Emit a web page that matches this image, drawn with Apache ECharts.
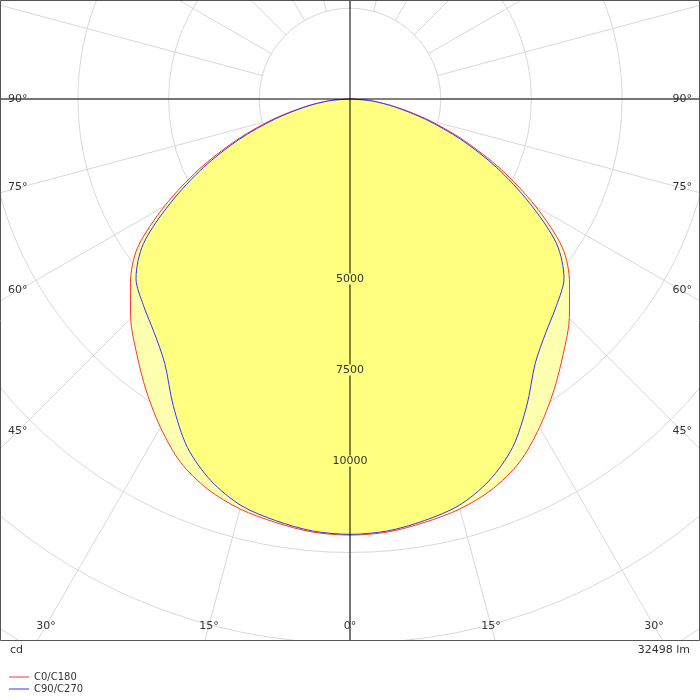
<!DOCTYPE html>
<html><head><meta charset="utf-8">
<script src="https://cdn.jsdelivr.net/npm/echarts@6/dist/echarts.min.js"></script>
<style>html,body{margin:0;padding:0;background:#fff}#ct{width:700px;height:700px}</style>
</head><body><div id="ct"></div>
<script>
// angles measured from nadir (0°) to horizontal (90°)
var gammaAngles = [0, 5, 10, 15, 20, 25, 30, 35, 40, 45, 50, 55, 60, 65, 70, 75, 80, 85, 90];
var c0c180 = [12020, 11980, 11850, 11700, 11450, 11050, 10450, 9800, 9150, 8550, 7900, 7150, 5900, 4600, 3350, 2250, 1300, 600, 0];
var c90c270 = [12000, 11950, 11800, 11600, 11200, 10600, 9750, 8900, 8400, 8050, 7700, 6950, 5700, 4450, 3250, 2150, 1250, 580, 0];
var radiusLabels = ['5000', '7500', '10000'];
var sideLabels = ['90°', '75°', '60°', '45°'];
var bottomLabels = ['30°', '15°', '0°', '15°', '30°'];
var fluxText = '32498 lm';

function polarData(vals) {
    var d = [];
    for (var i = gammaAngles.length - 1; i >= 0; i--) d.push([vals[i], gammaAngles[i]]);
    for (var j = 0; j < gammaAngles.length; j++) d.push([vals[j], 360 - gammaAngles[j]]);
    return d;
}

var txt = {fontSize: 11, fontFamily: 'DejaVu Sans', fill: '#333'};
function label(x, y, s, align) {
    return {type: 'text', x: x, y: y, z: 60, style: Object.assign({text: s, align: align || 'center', verticalAlign: 'middle'}, txt)};
}

var graphics = [
    {type: 'circle', shape: {cx: 350, cy: 99, r: 90.7}, z: 1, style: {fill: '#fff', stroke: '#dcdcdc'}},
    {type: 'line', shape: {x1: 350, y1: 0, x2: 350, y2: 640}, z: 40, style: {stroke: '#000'}},
    {type: 'line', shape: {x1: 0, y1: 99, x2: 700, y2: 99}, z: 40, style: {stroke: '#000'}},
    {type: 'rect', shape: {x: 0, y: 640.5, width: 700, height: 60}, z: 50, style: {fill: '#fff'}},
    {type: 'rect', shape: {x: 0.5, y: 0.5, width: 699, height: 640}, z: 55, style: {fill: 'none', stroke: '#555'}},
    label(10, 650, 'cd', 'left'),
    label(690, 650, fluxText, 'right')
];
var ry = [279, 370, 461];
radiusLabels.forEach(function (s, i) {
    graphics.push({type: 'text', x: 350, y: ry[i], z: 60, style: Object.assign({text: s, align: 'center', verticalAlign: 'middle', backgroundColor: '#ffff80'}, txt)});
});
var sy = [99, 187, 290, 431];
sideLabels.forEach(function (s, i) {
    graphics.push(label(8, sy[i], s, 'left'));
    graphics.push(label(692, sy[i], s, 'right'));
});
var bx = [46, 209, 350, 491, 654];
bottomLabels.forEach(function (s, i) { graphics.push(label(bx[i], 626, s)); });

var chart = echarts.init(document.getElementById('ct'));
chart.setOption({
    animation: false,
    polar: {center: [350, 99], radius: 725.6},
    angleAxis: {
        type: 'value', min: 0, max: 360, interval: 15, startAngle: -90, clockwise: false,
        axisLine: {show: false}, axisTick: {show: false}, axisLabel: {show: false},
        splitLine: {lineStyle: {color: '#d8d8d8', width: 1}}
    },
    radiusAxis: {
        type: 'value', min: 0, max: 20000, interval: 2500,
        axisLine: {show: false}, axisTick: {show: false}, axisLabel: {show: false},
        splitLine: {lineStyle: {color: '#d8d8d8', width: 1}}
    },
    legend: {
        orient: 'vertical', left: 4, top: 667, z: 100, itemGap: 2,
        itemWidth: 20, itemHeight: 1, icon: 'rect',
        textStyle: {fontSize: 10, fontFamily: 'DejaVu Sans', color: '#333'},
        data: ['C0/C180', 'C90/C270']
    },
    graphic: graphics,
    series: [
        {name: 'C0/C180', type: 'line', coordinateSystem: 'polar', z: 2, symbol: 'none', smooth: 0.3,
         data: polarData(c0c180), lineStyle: {color: '#ff3333', width: 1}, itemStyle: {color: '#ff3333'},
         areaStyle: {color: '#ffffb0', opacity: 1}},
        {name: 'C90/C270', type: 'line', coordinateSystem: 'polar', z: 3, symbol: 'none', smooth: 0.3,
         data: polarData(c90c270), lineStyle: {color: '#3333ff', width: 1}, itemStyle: {color: '#3333ff'},
         areaStyle: {color: '#ffff80', opacity: 1}}
    ]
});
</script></body></html>
